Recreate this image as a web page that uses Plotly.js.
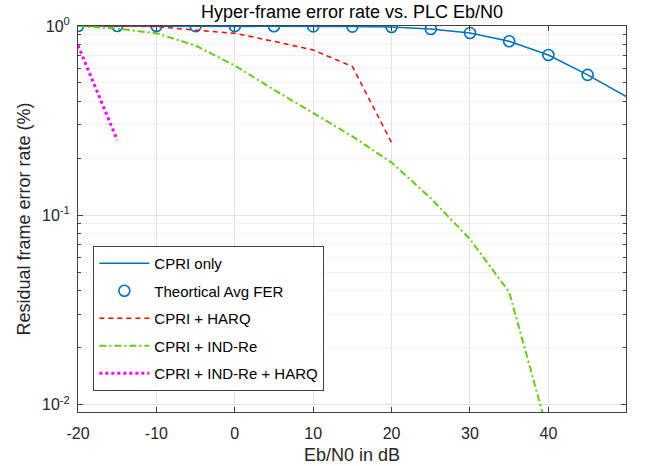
<!DOCTYPE html>
<html>
<head>
<meta charset="utf-8">
<script src="https://cdn.plot.ly/plotly-3.0.1.min.js"></script>
<style>html,body{margin:0;padding:0;background:#fff;}#chart{width:652px;height:466px;}</style>
</head>
<body>
<div id="chart"></div>
<script>
// Eb/N0 (dB)
const ebn0 = [-20, -15, -10, -5, 0, 5, 10, 15, 20, 25, 30, 35, 40, 45, 50];
const cpriOnly = [1.0, 1.0, 1.0, 0.999, 0.998, 0.997, 0.995, 0.993, 0.988, 0.964, 0.919, 0.831, 0.703, 0.552, 0.423];
const theoX = [-20, -15, -10, -5, 0, 5, 10, 15, 20, 25, 30, 35, 40, 45];
const theoFER = [1.0, 1.0, 1.0, 0.999, 0.998, 0.997, 0.995, 0.993, 0.988, 0.964, 0.919, 0.831, 0.703, 0.552];
const harqX = [-20, -15, -10, -5, 0, 5, 10, 15, 20];
const cpriHarq = [1.0, 0.998, 0.995, 0.95, 0.915, 0.83, 0.747, 0.611, 0.242];
const indReX = [-20, -15, -10, -5, 0, 5, 10, 15, 20, 25, 30, 35, 40];
const cpriIndRe = [1.0, 0.969, 0.915, 0.788, 0.618, 0.46, 0.347, 0.261, 0.19, 0.123, 0.0748, 0.0393, 0.007];
const indReHarqX = [-20, -15];
const cpriIndReHarq = [0.79, 0.25];
const xTicks = [-20, -10, 0, 10, 20, 30, 40];
const xTickText = ['-20', '-10', '0', '10', '20', '30', '40'];
const yTicks = [0.01, 0.1, 1];
const yTickText = ['10<sup>-2</sup>', '10<sup>-1</sup>', '10<sup>0</sup>'];

const FONT = 'Liberation Sans, Arial, sans-serif';
const traces = [
  {x: ebn0, y: cpriOnly, name: 'CPRI only', mode: 'lines', legendgroup: 'a',
   line: {color: '#0072BD', width: 1.5}},
  {x: theoX, y: theoFER, name: 'Theortical Avg FER', mode: 'markers', legendgroup: 'b',
   marker: {symbol: 'circle-open', size: 11, color: '#0072BD', line: {width: 1.6, color: '#0072BD'}}},
  {x: harqX, y: cpriHarq, name: 'CPRI + HARQ', mode: 'lines', legendgroup: 'c',
   line: {color: '#FF0000', width: 1.5, dash: '5px,4px'}},
  {x: indReX, y: cpriIndRe, name: 'CPRI + IND-Re', mode: 'lines', legendgroup: 'd',
   line: {color: '#66CC11', width: 2, dash: '7px,3px,2px,3px'}},
  {x: indReHarqX, y: cpriIndReHarq, name: 'CPRI + IND-Re + HARQ', mode: 'lines', legendgroup: 'e',
   line: {color: '#FF00FF', width: 3, dash: 'dot'}}
];

const axisCol = '#404040';
const layout = {
  width: 652, height: 466,
  paper_bgcolor: '#fff', plot_bgcolor: '#fff',
  margin: {l: 78, r: 26, t: 26, b: 54},
  font: {family: FONT, color: '#262626', size: 16},
  title: {text: 'Hyper-frame error rate vs. PLC Eb/N0', font: {family: FONT, size: 18, color: '#000'},
          x: 0.5, xref: 'paper', xanchor: 'center', y: 1 - 12/466, yref: 'container', yanchor: 'middle'},
  xaxis: {
    range: [-20, 49.9], tickvals: xTicks, ticktext: xTickText, ticks: 'inside', ticklen: 5, tickcolor: axisCol,
    showline: true, linecolor: axisCol, linewidth: 1, mirror: 'allticks',
    showgrid: true, gridcolor: '#e3e3e3', gridwidth: 1, zeroline: false,
    tickfont: {size: 16, color: '#262626'}, ticklabelstandoff: 7,
    title: {text: 'Eb/N0 in dB', font: {size: 18, color: '#262626'}, standoff: 7}
  },
  yaxis: {
    type: 'log', range: [-2.039, 0], tickvals: yTicks, ticktext: yTickText,
    ticks: 'inside', ticklen: 5, tickcolor: axisCol,
    showline: true, linecolor: axisCol, linewidth: 1, mirror: 'allticks',
    showgrid: true, gridcolor: '#e3e3e3', gridwidth: 1, zeroline: false,
    tickfont: {size: 16, color: '#262626'}, ticklabelstandoff: 4,
    minor: {dtick: 'D1', ticks: 'inside', ticklen: 3, tickcolor: axisCol, showgrid: true,
            gridcolor: '#d0d0d0', griddash: '1px,3px', gridwidth: 1},
    title: {text: 'Residual frame error rate (%)', font: {size: 18, color: '#262626'}, standoff: 6}
  },
  legend: {x: 0.028, y: 0.43, xanchor: 'left', yanchor: 'top', bgcolor: '#fff',
           bordercolor: '#404040', borderwidth: 1, font: {size: 15, color: '#000'},
           itemwidth: 50, tracegroupgap: 5}
};

Plotly.newPlot('chart', traces, layout, {displayModeBar: false, staticPlot: true});
</script>
</body>
</html>
